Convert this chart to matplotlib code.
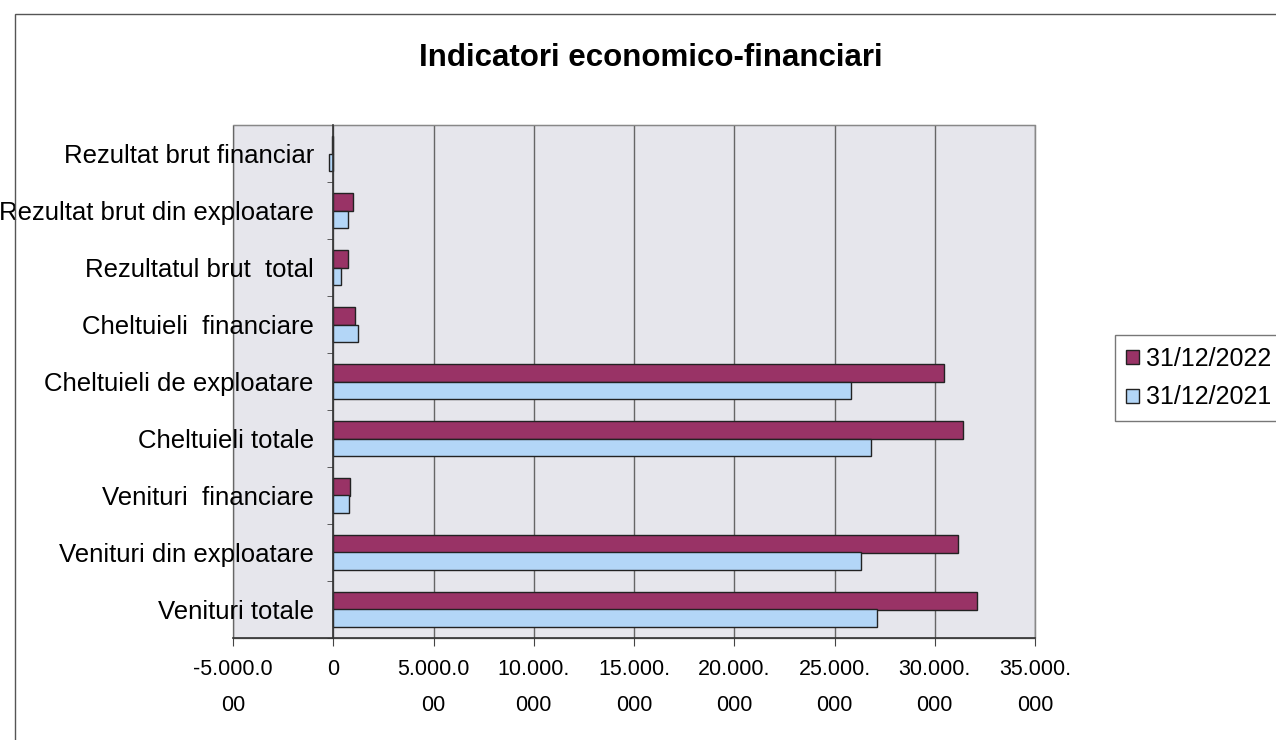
import matplotlib
matplotlib.use("Agg")
import matplotlib.pyplot as plt
import numpy as np
from matplotlib.patches import Rectangle

categories = ["Venituri totale", "Venituri din exploatare", "Venituri  financiare",
              "Cheltuieli totale", "Cheltuieli de exploatare", "Cheltuieli  financiare",
              "Rezultatul brut  total", "Rezultat brut din exploatare", "Rezultat brut financiar"]
v2022 = [32100, 31150, 850, 31400, 30450, 1100, 750, 1000, -80]
v2021 = [27100, 26300, 800, 26800, 25800, 1250, 400, 750, -200]
series_labels = ["31/12/2022", "31/12/2021"]
xticks = [-5000, 0, 5000, 10000, 15000, 20000, 25000, 30000, 35000]
xticklabels = ["-5.000.0\n00", "0", "5.000.0\n00", "10.000.\n000", "15.000.\n000",
               "20.000.\n000", "25.000.\n000", "30.000.\n000", "35.000.\n000"]

plt.rcParams['font.family'] = ['Liberation Sans', 'DejaVu Sans']
fig = plt.figure(figsize=(12.76, 7.4), dpi=100)
fig.patch.set_facecolor("white")
fig.patches.append(Rectangle((15/1276, -0.01), 1.2, 1 - 14/740 + 0.01, transform=fig.transFigure,
                             fill=False, edgecolor="#555555", linewidth=1.0))

ax = fig.add_axes([233/1276, 1 - 638/740, (1035 - 233)/1276, (638 - 125)/740])
ax.set_facecolor("#e6e6ec")

y = np.arange(len(categories))
h = 0.3
c22 = "#993366"
c21 = "#b3d6f7"
ax.barh(y + h/2, v2022, height=h, color=c22, edgecolor="#222222", linewidth=1.0, label=series_labels[0], zorder=3)
ax.barh(y - h/2, v2021, height=h, color=c21, edgecolor="#222222", linewidth=1.0, label=series_labels[1], zorder=3)

ax.spines['left'].set_position(('data', 0))
ax.spines['left'].set_color("#333333")
ax.spines['left'].set_linewidth(1.2)
ax.spines['left'].set_zorder(4)
ax.spines['bottom'].set_color("#333333")
ax.spines['bottom'].set_linewidth(1.2)
for k in ['top', 'right']:
    ax.spines[k].set_color("#888888")
ax.add_patch(Rectangle((0, 0), 1, 1, transform=ax.transAxes, fill=False,
                       edgecolor="#888888", linewidth=1.0, zorder=0.5, clip_on=False))

ax.set_xlim(-5000, 35000)
ax.set_ylim(-0.5, len(categories) - 0.5)
ax.set_xticks(xticks)
ax.set_xticklabels(xticklabels, fontsize=15.5, linespacing=1.95)
ax.set_yticks(y)
ax.set_yticklabels(categories, fontsize=18.5)
ax.set_yticks(np.arange(-0.5, len(categories), 1), minor=True)
ax.tick_params(axis='y', which='major', length=0, pad=14, labelsize=18.5)
ax.tick_params(axis='y', which='minor', length=4, direction='out', color="#444444")
ax.tick_params(axis='x', length=6, direction='out', pad=9, color="#444444")
ax.grid(axis='x', color="#666666", linewidth=1.0, zorder=1)

fig.text(651/1276, 1 - 58/740, "Indicatori economico-financiari", ha="center", va="center",
         fontsize=22.5, fontweight="bold")

leg = fig.legend(loc="center left", bbox_to_anchor=(1115/1276, 1 - 378/740), fontsize=18,
                 frameon=True, fancybox=False, edgecolor="#555555", handlelength=0.5,
                 handleheight=0.5, handletextpad=0.3, borderpad=0.45, labelspacing=0.6,
                 borderaxespad=0)

fig.savefig("out.png", dpi=100)
